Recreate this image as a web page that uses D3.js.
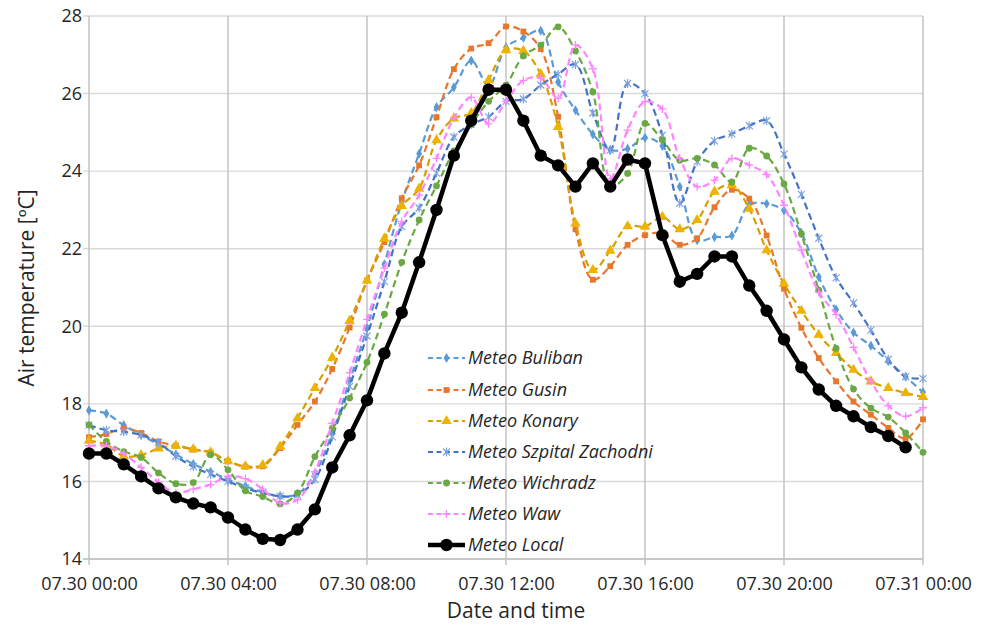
<!DOCTYPE html>
<html>
<head>
<meta charset="utf-8">
<script src="https://cdn.jsdelivr.net/npm/d3@7"></script>
<style>
  html, body { margin: 0; padding: 0; background: #fff; }
  svg { display: block; }
  text { font-family: "Open Sans", "Liberation Sans", sans-serif; fill: #262626; }
</style>
</head>
<body>
<svg id="chart" width="989" height="628"></svg>
<script>
// ---- data (half-hour samples, 07.30 00:00 .. 07.31 00:00) ----
const seriesNames = ["Meteo Buliban", "Meteo Gusin", "Meteo Konary", "Meteo Szpital Zachodni", "Meteo Wichradz", "Meteo Waw", "Meteo Local"];

const buliban = [17.83,17.75,17.45,17.2,16.95,16.7,16.45,16.25,16.05,15.88,15.72,15.62,15.68,16.2,17.25,18.6,19.95,21.6,23.2,24.45,25.65,26.16,26.85,26.2,27.19,27.44,27.62,26.3,25.57,24.95,24.55,24.58,24.86,24.65,23.6,22.22,22.3,22.34,23.14,23.16,22.99,22.4,21.27,20.43,19.84,19.5,19.1,18.7,18.3];
const gusin = [17.14,17.22,17.38,17.25,17.03,16.92,16.82,16.75,16.52,16.38,16.39,16.86,17.46,18.06,18.9,19.97,21.18,22.17,23.3,24.15,25.39,26.63,27.16,27.3,27.73,27.6,27.15,25.4,22.5,21.2,21.55,22.1,22.35,22.4,22.1,22.27,23.07,23.52,23.29,22.34,20.97,19.96,19.18,18.58,18.06,17.72,17.38,17.1,17.6];
const konary = [17.05,16.95,16.65,16.68,16.85,16.92,16.83,16.75,16.52,16.39,16.42,16.9,17.63,18.41,19.19,20.14,21.18,22.26,23.1,23.55,24.8,25.36,25.5,26.35,27.12,27.1,26.5,25.14,22.65,21.45,21.95,22.58,22.57,22.82,22.5,22.74,23.47,23.64,23.03,21.96,21.1,20.4,19.78,19.31,18.88,18.58,18.41,18.28,18.18];
const szpital = [17.45,17.32,17.28,17.2,17.0,16.65,16.38,16.18,16.0,15.83,15.7,15.62,15.65,16.05,17.15,18.45,19.75,21.15,22.57,23.05,23.95,24.88,25.2,25.4,25.8,25.86,26.22,26.5,26.75,25.5,24.54,26.26,26.0,24.93,23.17,24.24,24.78,24.96,25.17,25.3,24.44,23.4,22.27,21.25,20.6,19.9,19.15,18.7,18.65];
const wichradz = [17.46,17.03,16.77,16.62,16.22,15.94,15.97,16.69,16.3,15.76,15.61,15.42,15.7,16.64,17.37,18.15,19.07,20.31,21.65,22.74,23.62,24.52,25.2,25.8,26.22,26.97,27.25,27.72,27.1,26.04,23.6,23.94,25.23,24.8,24.28,24.33,24.16,23.72,24.59,24.39,23.67,22.38,20.93,19.43,18.38,17.89,17.66,17.25,16.75];
const waw = [16.92,16.92,16.72,16.36,15.98,15.7,15.8,15.92,16.13,16.07,15.8,15.44,15.53,16.25,17.5,18.8,20.18,21.5,22.7,23.38,24.33,25.37,25.9,25.22,25.8,26.34,26.4,25.88,27.25,26.64,23.8,25.06,25.79,25.6,24.33,23.6,23.77,24.33,24.16,23.91,23.12,21.96,20.88,20.3,19.46,18.58,17.95,17.68,17.9];
const local = [16.72,16.72,16.44,16.13,15.82,15.59,15.43,15.33,15.07,14.76,14.52,14.49,14.76,15.28,16.36,17.19,18.09,19.3,20.35,21.65,23.0,24.4,25.3,26.1,26.1,25.3,24.4,24.15,23.6,24.2,23.6,24.3,24.2,22.35,21.15,21.35,21.8,21.8,21.05,20.4,19.66,18.94,18.37,17.95,17.68,17.4,17.17,16.88];

const xTickHours = [0, 4, 8, 12, 16, 20, 24];
const xTickLabels = ["07.30 00:00", "07.30 04:00", "07.30 08:00", "07.30 12:00", "07.30 16:00", "07.30 20:00", "07.31 00:00"];
const yTicks = [14, 16, 18, 20, 22, 24, 26, 28];

// ---- styles ----
const styles = [
  { data: buliban,  color: "#5B9BD5", marker: "diamond" },
  { data: gusin,    color: "#E8772E", marker: "square" },
  { data: konary,   color: "#D6A000", marker: "triangle", fill: "#EDB300" },
  { data: szpital,  color: "#4472C4", marker: "star" },
  { data: wichradz, color: "#6AA843", marker: "circle" },
  { data: waw,      color: "#FF85FF", marker: "plus" },
  { data: local,    color: "#000000", marker: "bigcircle" }
];

const svg = d3.select("#chart");
const margin = { left: 89, right: 66, top: 16, bottom: 69 };
const W = 989, H = 628;
const x = d3.scaleLinear().domain([0, 24]).range([margin.left, W - margin.right]);
const y = d3.scaleLinear().domain([14, 28]).range([H - margin.bottom, margin.top]);

// gridlines
const grid = svg.append("g");
grid.selectAll("line.h").data(yTicks).enter().append("line")
  .attr("x1", x(0) - 6).attr("x2", x(24))
  .attr("y1", d => y(d)).attr("y2", d => y(d))
  .attr("stroke", "#d9d9d9").attr("stroke-width", 1.4);
grid.selectAll("line.v").data(xTickHours).enter().append("line")
  .attr("x1", d => x(d)).attr("x2", d => x(d))
  .attr("y1", y(28)).attr("y2", y(14) + 6)
  .attr("stroke", "#bfbfbf").attr("stroke-width", 1.4);
grid.append("line").attr("x1", x(0) - 6).attr("x2", x(24)).attr("y1", y(14)).attr("y2", y(14))
  .attr("stroke", "#bfbfbf").attr("stroke-width", 1.4);

// axes labels via d3 axes
const xAxis = d3.axisBottom(x).tickValues(xTickHours).tickFormat((d, i) => xTickLabels[i]).tickSize(0).tickPadding(18);
const gx = svg.append("g").attr("transform", `translate(0,${y(14)})`).call(xAxis);
gx.select(".domain").remove();
gx.selectAll("text").style("font-size", "18px").style("font-family", "'Open Sans', sans-serif").attr("fill", "#262626");

const yAxis = d3.axisLeft(y).tickValues(yTicks).tickFormat(d3.format("d")).tickSize(0).tickPadding(7);
const gy = svg.append("g").attr("transform", `translate(${x(0)},0)`).call(yAxis);
gy.select(".domain").remove();
gy.selectAll("text").style("font-size", "18px").style("font-family", "'Open Sans', sans-serif").attr("fill", "#262626");

// titles
svg.append("text").attr("x", 516).attr("y", 618).attr("text-anchor", "middle")
  .style("font-size", "21px").text("Date and time");
svg.append("text").attr("transform", "translate(27,288) rotate(-90)").attr("dy", "0.35em").attr("text-anchor", "middle")
  .style("font-size", "21px").text("Air temperature [ºC]");

// markers
function drawMarker(g, type, color, fill, cx, cy) {
  if (type === "diamond") {
    g.append("path").attr("d", d3.symbol(d3.symbolDiamond, 30)()).attr("transform", `translate(${cx},${cy})`).attr("fill", color);
  } else if (type === "square") {
    g.append("path").attr("d", d3.symbol(d3.symbolSquare, 34)()).attr("transform", `translate(${cx},${cy})`).attr("fill", color);
  } else if (type === "triangle") {
    g.append("path").attr("d", d3.symbol(d3.symbolTriangle, 48)()).attr("transform", `translate(${cx},${cy})`).attr("fill", fill || color);
  } else if (type === "circle") {
    g.append("circle").attr("cx", cx).attr("cy", cy).attr("r", 3.4).attr("fill", color);
  } else if (type === "bigcircle") {
    g.append("circle").attr("cx", cx).attr("cy", cy).attr("r", 6.2).attr("fill", color);
  } else if (type === "plus") {
    g.append("path").attr("d", `M${cx-4},${cy}H${cx+4}M${cx},${cy-4}V${cy+4}`).attr("stroke", color).attr("stroke-width", 1.3).attr("fill", "none");
  } else if (type === "star") {
    g.append("path").attr("d", `M${cx-3.5},${cy-3.5}L${cx+3.5},${cy+3.5}M${cx-3.5},${cy+3.5}L${cx+3.5},${cy-3.5}M${cx},${cy-4.5}V${cy+4.5}`)
      .attr("stroke", "#7FA3E0").attr("stroke-width", 1.2).attr("fill", "none");
  }
}

const plot = svg.append("g");
styles.forEach((s, k) => {
  const isLocal = s.marker === "bigcircle";
  const pts = s.data.map((v, i) => [x(i * 0.5), y(v)]);
  const line = d3.line().curve(isLocal ? d3.curveLinear : d3.curveCatmullRom.alpha(0.5));
  const g = plot.append("g");
  g.append("path").attr("d", line(pts)).attr("fill", "none")
    .attr("stroke", s.color)
    .attr("stroke-width", isLocal ? 4.5 : 2.2)
    .attr("stroke-dasharray", isLocal ? null : "7,4")
    .attr("stroke-linejoin", "round");
  pts.forEach(p => drawMarker(g, s.marker, s.color, s.fill, p[0], p[1]));
});

// legend
const legend = svg.append("g");
const legY = [358, 390, 421, 452, 483, 514, 545];
styles.forEach((s, k) => {
  const isLocal = s.marker === "bigcircle";
  const g = legend.append("g");
  const ly = legY[k];
  g.append("line").attr("x1", 428).attr("x2", 465).attr("y1", ly).attr("y2", ly)
    .attr("stroke", s.color).attr("stroke-width", isLocal ? 4.5 : 2.2)
    .attr("stroke-dasharray", isLocal ? null : "5,3.5");
  drawMarker(g, s.marker, s.color, s.fill, 446.5, ly);
  g.append("text").attr("x", 468).attr("y", ly).attr("dy", "0.35em")
    .style("font-size", "18px").style("font-style", "italic").attr("fill", "#262626")
    .text(seriesNames[k]);
});
</script>
</body>
</html>
